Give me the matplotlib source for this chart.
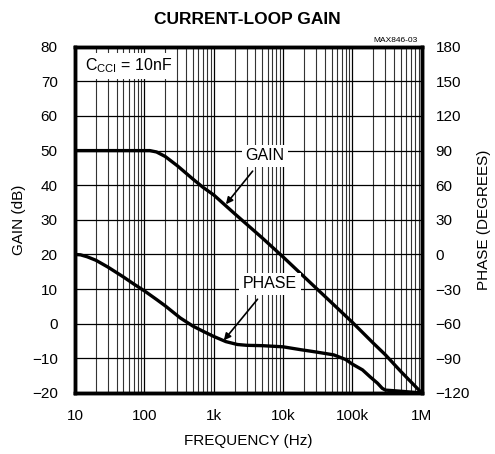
import matplotlib
matplotlib.use("Agg")
import matplotlib.pyplot as plt
from matplotlib.ticker import FixedLocator, LogLocator, NullFormatter

plt.rcParams['font.family'] = ['Liberation Sans', 'DejaVu Sans']

# values
gain_freq = [10, 50, 120, 150, 200, 300, 500, 700, 1e3, 2e3, 5e3, 1e4, 2e4, 5e4,
             1e5, 2e5, 3e5, 5e5, 1e6]
gain_db = [50, 50, 50, 49.6, 48.3, 45.6, 41.8, 39.4, 37.2, 31.8, 24.8, 19.3, 13.6,
           6.1, 0.4, -5.6, -9, -13.8, -20]

phase_freq = [10, 12, 15, 20, 30, 50, 70, 100, 150, 200, 330, 500, 700, 1e3, 1.5e3,
              2.2e3, 3e3, 5e3, 1e4, 1.8e4, 3e4, 5.4e4, 8e4, 1e5, 1.4e5, 1.8e5,
              2.3e5, 2.7e5, 3e5, 5e5, 1e6]
phase_deg = [0, -0.3, -2, -5, -11, -19.5, -25.5, -31.5, -39, -44.5, -55, -62, -66.5,
             -71, -75.5, -78, -78.7, -79, -80, -82.5, -84.5, -87, -91, -95, -100,
             -106, -111.5, -116, -117.5, -118.5, -120]

x_ticks = [10, 100, 1e3, 1e4, 1e5, 1e6]
x_labels = ["10", "100", "1k", "10k", "100k", "1M"]
gain_ticks = list(range(-20, 81, 10))
phase_ticks = list(range(-120, 181, 30))

fig = plt.figure(figsize=(4.95, 4.54), dpi=100)
ax = fig.add_axes([0.1515, 0.1344, 0.7005, 0.7627])
ax2 = ax.twinx()

ax.set_xscale("log")
ax.set_xlim(10, 1e6)
ax.set_ylim(-20, 80)
ax2.set_ylim(-120, 180)

ax.xaxis.set_major_locator(FixedLocator(x_ticks))
ax.set_xticklabels(x_labels)
ax.xaxis.set_minor_locator(LogLocator(base=10, subs=range(2, 10)))
ax.xaxis.set_minor_formatter(NullFormatter())
ax.set_yticks(gain_ticks)
ax2.set_yticks(phase_ticks)

ax.grid(True, which="major", color="black", lw=0.9)
ax.grid(True, which="minor", axis="x", color="0.2", lw=0.8)
ax.tick_params(axis="y", which="both", length=0, labelsize=11, pad=12.5)
ax.tick_params(axis="x", which="both", length=0, labelsize=11, pad=11.5)
ax2.tick_params(length=0, labelsize=11, pad=10)

for a in (ax, ax2):
    for s in a.spines.values():
        s.set_linewidth(2.5)

ax.plot(gain_freq, gain_db, color="black", lw=2.4, zorder=3)
ax2.plot(phase_freq, phase_deg, color="black", lw=2.4, zorder=3)

ax.set_xlabel("FREQUENCY (Hz)", fontsize=11, labelpad=8)
ax.set_ylabel("GAIN (dB)", fontsize=11, labelpad=4)
ax2.set_ylabel("PHASE (DEGREES)", fontsize=11, labelpad=5)
fig.text(0.5, 0.956, "CURRENT-LOOP GAIN", ha="center", va="center",
         fontsize=12.5, fontweight="bold")
fig.text(0.843, 0.902, "MAX846-03", ha="right", va="bottom", fontsize=6)

box = dict(facecolor="white", edgecolor="none", pad=2.5)
ax.text(14, 74.5, r"C$_{\mathregular{CCI}}$ = 10nF", fontsize=11.5, va="center",
        ha="left", bbox=box, zorder=5)
ax.annotate("GAIN", xy=(1.5e3, 34.5), xytext=(5.5e3, 48.5), fontsize=11.5,
            ha="center", va="center", bbox=box, zorder=5,
            arrowprops=dict(arrowstyle="-|>", color="black", lw=1.2,
                            shrinkA=4, shrinkB=0, mutation_scale=10))
ax.annotate("PHASE", xy=(1.4e3, -4.8), xytext=(6.5e3, 11.5), fontsize=11.5,
            ha="center", va="center", bbox=box, zorder=5,
            arrowprops=dict(arrowstyle="-|>", color="black", lw=1.2,
                            shrinkA=4, shrinkB=0, mutation_scale=10))

fig.savefig("out.png", dpi=100)
